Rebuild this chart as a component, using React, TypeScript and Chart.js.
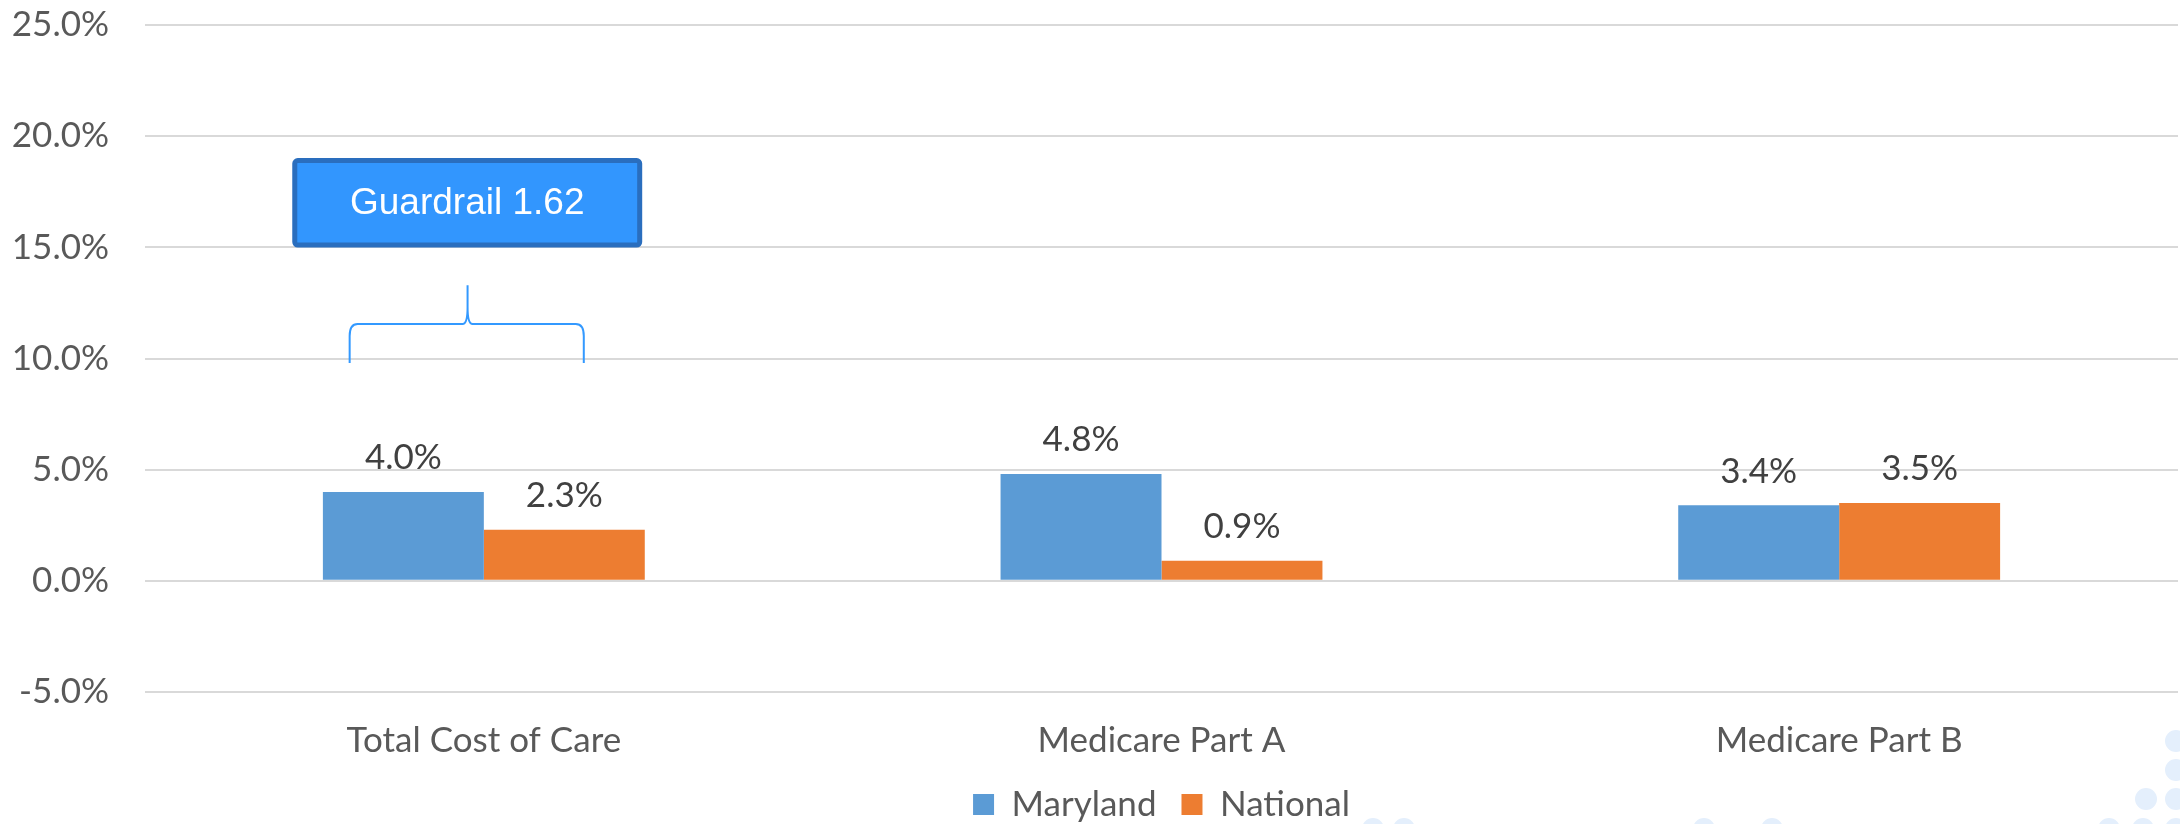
import React, { useEffect, useRef } from "react";
import { Chart, registerables } from "chart.js";

Chart.register(...registerables);

// Categories and series values (percent change)
const categories = ["Total Cost of Care", "Medicare Part A", "Medicare Part B"];
const seriesNames = ["Maryland", "National"];
const marylandValues = [4.0, 4.8, 3.4];
const nationalValues = [2.3, 0.9, 3.5];
const seriesColors = ["#5B9BD5", "#ED7D31"];

// Value axis range
const yMin = -5;
const yMax = 25;
const yStep = 5;

// Callout above the first category
const guardrailText = "Guardrail 1.62";

const FONT = "Lato, 'Open Sans', sans-serif";
const FONT_SIZE = 35;
const fmtPct = (v: number) => `${v.toFixed(1)}%`;

// Draws the value label above every bar
const barValueLabels = {
  id: "barValueLabels",
  afterDatasetsDraw(chart: any) {
    const { ctx } = chart;
    ctx.save();
    ctx.font = `${FONT_SIZE}px ${FONT}`;
    ctx.fillStyle = "#404040";
    ctx.textAlign = "center";
    ctx.textBaseline = "middle";
    chart.data.datasets.forEach((ds: any, di: number) => {
      const meta = chart.getDatasetMeta(di);
      meta.data.forEach((bar: any, i: number) => {
        ctx.fillText(fmtPct(ds.data[i]), bar.x, bar.y - 34);
      });
    });
    ctx.restore();
  },
};

// Guardrail box with a curly brace, anchored on the first category
const guardrailCallout = {
  id: "guardrailCallout",
  afterDatasetsDraw(chart: any) {
    const { ctx } = chart;
    const xs = chart.scales.x;
    const ys = chart.scales.y;
    const cx = xs.getPixelForValue(0);
    const cw = xs.getPixelForValue(1) - cx;

    // box
    const bx0 = cx - 0.279 * cw;
    const bx1 = cx + 0.23 * cw;
    const by0 = ys.getPixelForValue(18.9);
    const by1 = ys.getPixelForValue(15.1);
    ctx.save();
    ctx.fillStyle = "#3296FE";
    ctx.strokeStyle = "#2A6EBE";
    ctx.lineWidth = 5;
    ctx.beginPath();
    if (ctx.roundRect) ctx.roundRect(bx0, by0, bx1 - bx0, by1 - by0, 3);
    else ctx.rect(bx0, by0, bx1 - bx0, by1 - by0);
    ctx.fill();
    ctx.stroke();
    ctx.fillStyle = "#FFFFFF";
    ctx.font = `37px 'Liberation Sans', Arial, sans-serif`;
    ctx.textAlign = "center";
    ctx.textBaseline = "middle";
    ctx.fillText(guardrailText, (bx0 + bx1) / 2, (by0 + by1) / 2 + 1);

    // brace
    const xl = cx - 0.198 * cw;
    const xr = cx + 0.1475 * cw;
    const xt = cx - 0.024 * cw;
    const yTip = ys.getPixelForValue(13.3);
    const yLine = ys.getPixelForValue(11.55);
    const yEnd = ys.getPixelForValue(9.8);
    ctx.strokeStyle = "#3399FF";
    ctx.lineWidth = 2;
    ctx.beginPath();
    ctx.moveTo(xl, yEnd);
    ctx.lineTo(xl, yLine + 12);
    ctx.quadraticCurveTo(xl, yLine, xl + 8, yLine);
    ctx.lineTo(xt - 5, yLine);
    ctx.quadraticCurveTo(xt, yLine, xt, yLine - 17);
    ctx.lineTo(xt, yTip);
    ctx.moveTo(xt, yLine - 17);
    ctx.quadraticCurveTo(xt, yLine, xt + 5, yLine);
    ctx.lineTo(xr - 8, yLine);
    ctx.quadraticCurveTo(xr, yLine, xr, yLine + 12);
    ctx.lineTo(xr, yEnd);
    ctx.stroke();
    ctx.restore();
  },
};

// Faint dot pattern along the lower right edge
const dotPattern = {
  id: "dotPattern",
  beforeDraw(chart: any) {
    const { ctx, width, height } = chart;
    const dots: [number, number][] = [
      [width - 4, height - 83],
      [width - 4, height - 54],
      [width - 4, height - 25],
      [width - 34, height - 25],
      [width - 4, height + 5],
      [width - 37, height + 5],
      [width - 71, height + 5],
      [width - 408, height + 5],
      [width - 476, height + 5],
      [width - 776, height + 5],
      [width - 807, height + 5],
    ];
    ctx.save();
    ctx.fillStyle = "#E4EFFC";
    dots.forEach(([x, y]) => {
      ctx.beginPath();
      ctx.arc(x, y, 11, 0, Math.PI * 2);
      ctx.fill();
    });
    ctx.restore();
  },
};

export default function App() {
  const canvasRef = useRef<HTMLCanvasElement | null>(null);

  useEffect(() => {
    if (!canvasRef.current) return;
    const chart = new Chart(canvasRef.current, {
      type: "bar",
      data: {
        labels: categories,
        datasets: [
          {
            label: seriesNames[0],
            data: marylandValues,
            backgroundColor: seriesColors[0],
            borderWidth: 0,
            categoryPercentage: 0.475,
            barPercentage: 1,
          },
          {
            label: seriesNames[1],
            data: nationalValues,
            backgroundColor: seriesColors[1],
            borderWidth: 0,
            categoryPercentage: 0.475,
            barPercentage: 1,
          },
        ],
      },
      options: {
        responsive: false,
        animation: false,
        layout: { padding: { top: 25, right: 2, left: 0, bottom: -8 } },
        scales: {
          x: {
            grid: { display: false, drawTicks: false },
            border: { display: false },
            ticks: {
              font: { family: FONT, size: FONT_SIZE },
              color: "#595959",
              padding: 28,
            },
            afterFit: (scale: any) => {
              scale.height = Math.max(0, scale.height - 28);
            },
          },
          y: {
            min: yMin,
            max: yMax,
            grid: { color: "#D9D9D9", lineWidth: 2, drawTicks: false },
            border: { display: false },
            ticks: {
              stepSize: yStep,
              font: { family: FONT, size: FONT_SIZE },
              color: "#595959",
              padding: 36,
              callback: (v: any) => fmtPct(Number(v)),
            },
            afterFit: (scale: any) => {
              scale.width = 145;
              scale.paddingTop = 0;
              scale.paddingBottom = 0;
            },
          },
        },
        plugins: {
          legend: {
            position: "bottom",
            fullSize: false,
            labels: {
              boxWidth: 21,
              boxHeight: 21,
              padding: 25,
              font: { family: FONT, size: FONT_SIZE },
              color: "#595959",
            },
          },
          tooltip: { enabled: false },
        },
      },
      plugins: [dotPattern, barValueLabels, guardrailCallout],
    });
    if ((document as any).fonts && (document as any).fonts.ready) {
      (document as any).fonts.ready.then(() => chart.update());
    }
    return () => chart.destroy();
  }, []);

  return (
    <div style={{ position: "absolute", left: 0, top: 0, width: 2180, height: 824, background: "#FFFFFF" }}>
      <canvas ref={canvasRef} width={2180} height={824} style={{ display: "block" }} />
    </div>
  );
}
